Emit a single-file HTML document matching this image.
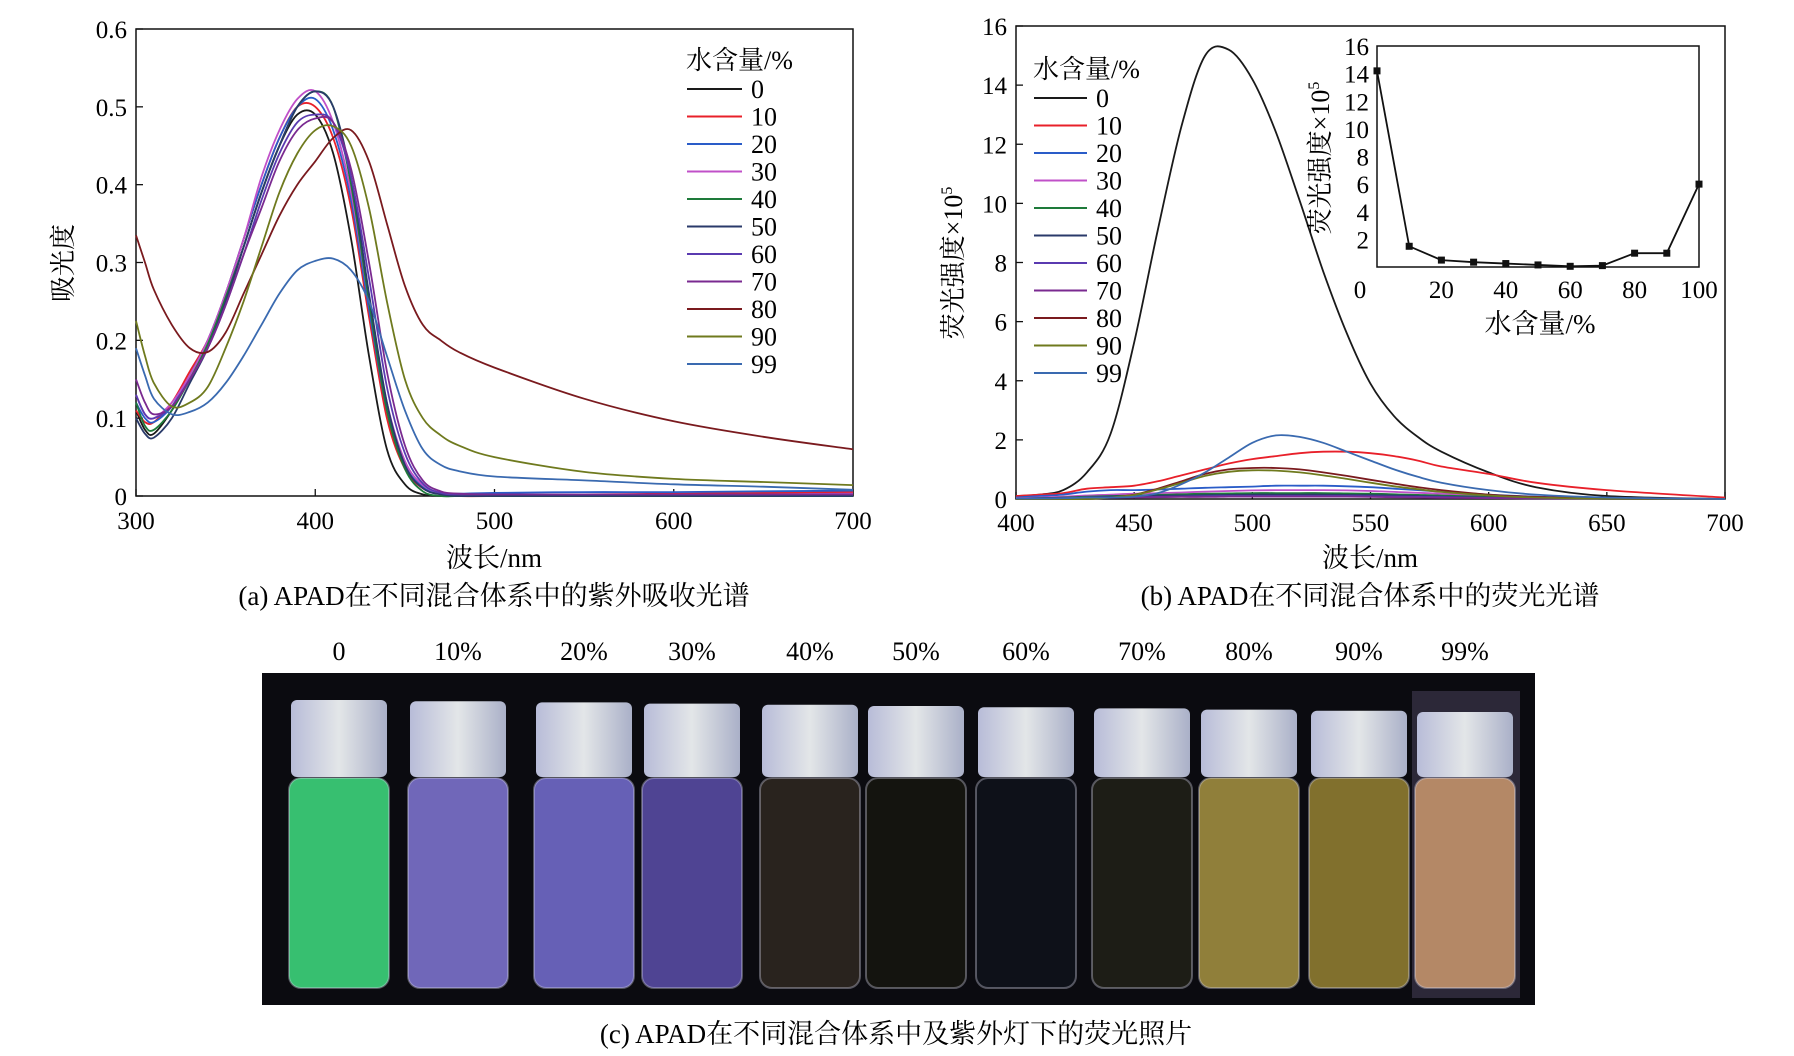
<!DOCTYPE html>
<html><head><meta charset="utf-8"><style>
html,body{margin:0;padding:0;background:#fff;}
svg{display:block;font-family:"Liberation Serif","Noto Serif CJK SC",serif;}
</style></head><body>
<svg id="fig" width="1794" height="1056" viewBox="0 0 1794 1056" xmlns="http://www.w3.org/2000/svg">
<defs>
<linearGradient id="capg" x1="0" x2="1"><stop offset="0" stop-color="#b8bcd8"/><stop offset="0.5" stop-color="#e3e6e8"/><stop offset="1" stop-color="#aab0c8"/></linearGradient>
</defs>
<g id="panelA"></g>
<g id="panelB"></g>
<g id="panelC"></g>
</svg>
<script>
// ---------- Panel (a) data ----------
const absWl = [300,305,310,320,330,340,350,360,370,380,390,400,410,420,430,440,450,460,470,480,500,550,600,650,700];
const absLabels = ["0","10","20","30","40","50","60","70","80","90","99"];
const absColors = ["#1a1a1a","#e8202a","#2a5cc8","#c050c8","#1e7a3a","#2a3a6a","#5a3ab0","#7a2a90","#7a1a1e","#6f7a1e","#3a6ab0"];
const abs0  = [0.11,0.085,0.08,0.11,0.15,0.19,0.25,0.32,0.39,0.45,0.49,0.49,0.44,0.33,0.18,0.06,0.015,0.002,0,0,0,0,0,0,0];
const abs10 = [0.11,0.095,0.095,0.12,0.16,0.2,0.26,0.33,0.40,0.46,0.50,0.50,0.46,0.37,0.23,0.10,0.035,0.01,0.003,0,0,0.002,0.003,0.004,0.005];
const abs20 = [0.12,0.1,0.095,0.115,0.155,0.2,0.26,0.33,0.40,0.46,0.50,0.51,0.47,0.38,0.24,0.11,0.04,0.012,0.004,0.003,0.004,0.005,0.005,0.006,0.007];
const abs30 = [0.13,0.105,0.1,0.12,0.155,0.2,0.26,0.33,0.41,0.47,0.51,0.52,0.48,0.39,0.25,0.12,0.045,0.014,0.004,0.002,0.002,0.002,0.002,0.002,0.003];
const abs40 = [0.12,0.09,0.085,0.11,0.15,0.195,0.255,0.32,0.39,0.45,0.50,0.52,0.50,0.40,0.25,0.11,0.035,0.006,0,0,0,0,0,0,0];
const abs50 = [0.10,0.08,0.075,0.10,0.145,0.19,0.25,0.32,0.39,0.45,0.50,0.52,0.50,0.41,0.26,0.12,0.04,0.01,0.002,0,0,0,0,0,0];
const abs60 = [0.13,0.105,0.1,0.115,0.15,0.19,0.245,0.31,0.38,0.44,0.48,0.49,0.48,0.41,0.28,0.14,0.055,0.016,0.004,0.002,0.002,0.002,0.002,0.002,0.002];
const abs70 = [0.15,0.12,0.105,0.115,0.15,0.19,0.245,0.31,0.37,0.43,0.47,0.485,0.48,0.42,0.30,0.16,0.065,0.02,0.006,0.003,0.002,0.002,0.002,0.002,0.002];
const abs80 = [0.335,0.30,0.265,0.22,0.19,0.185,0.21,0.26,0.31,0.36,0.40,0.43,0.46,0.47,0.43,0.35,0.27,0.22,0.2,0.185,0.165,0.125,0.096,0.076,0.06];
const abs90 = [0.225,0.18,0.145,0.115,0.12,0.14,0.19,0.25,0.32,0.39,0.44,0.47,0.475,0.45,0.37,0.25,0.15,0.10,0.078,0.065,0.05,0.031,0.022,0.018,0.014];
const abs99 = [0.19,0.155,0.125,0.105,0.108,0.12,0.145,0.18,0.22,0.26,0.29,0.302,0.305,0.29,0.25,0.18,0.11,0.06,0.04,0.032,0.025,0.02,0.015,0.012,0.008];
const absSeries = [abs0,abs10,abs20,abs30,abs40,abs50,abs60,abs70,abs80,abs90,abs99];
const absXTicks = [300,400,500,600,700];
const absYTicks = [0,0.1,0.2,0.3,0.4,0.5,0.6];
const absYTickLabels = ["0","0.1","0.2","0.3","0.4","0.5","0.6"];

// ---------- Panel (b) data ----------
const flWl = [400,410,420,430,440,450,460,470,480,490,500,510,520,530,540,550,560,570,580,600,620,650,700];
const fl0  = [0.1,0.15,0.3,0.9,2.2,5.3,9.1,12.6,15.0,15.2,14.2,12.4,10.1,7.7,5.6,3.9,2.8,2.1,1.6,0.9,0.4,0.1,0];
const fl10 = [0.1,0.15,0.2,0.35,0.4,0.45,0.6,0.8,1.0,1.2,1.35,1.45,1.55,1.6,1.6,1.55,1.45,1.3,1.1,0.85,0.55,0.3,0.05];
const fl20 = [0.05,0.1,0.15,0.25,0.3,0.3,0.32,0.35,0.38,0.4,0.42,0.45,0.45,0.45,0.43,0.4,0.35,0.3,0.25,0.15,0.08,0.03,0];
const fl30 = [0.03,0.05,0.08,0.12,0.15,0.18,0.2,0.22,0.25,0.27,0.29,0.3,0.3,0.3,0.29,0.27,0.24,0.21,0.18,0.11,0.06,0.02,0];
const fl40 = [0.02,0.03,0.05,0.08,0.1,0.12,0.14,0.16,0.18,0.19,0.2,0.2,0.2,0.2,0.19,0.18,0.16,0.14,0.12,0.07,0.04,0.01,0];
const fl50 = [0.02,0.03,0.04,0.06,0.08,0.1,0.11,0.12,0.13,0.14,0.15,0.15,0.15,0.15,0.14,0.13,0.12,0.1,0.08,0.05,0.03,0.01,0];
const fl60 = [0.01,0.02,0.03,0.04,0.05,0.06,0.07,0.08,0.09,0.1,0.1,0.1,0.1,0.1,0.1,0.09,0.08,0.07,0.06,0.04,0.02,0.01,0];
const fl70 = [0.01,0.02,0.02,0.03,0.04,0.05,0.06,0.07,0.07,0.08,0.08,0.08,0.08,0.08,0.08,0.07,0.06,0.05,0.04,0.03,0.02,0.01,0];
const fl80 = [0,0,0,0,0.05,0.15,0.35,0.6,0.85,1.0,1.05,1.05,1.0,0.9,0.78,0.65,0.52,0.4,0.3,0.15,0.07,0.02,0];
const fl90 = [0,0,0,0,0.05,0.14,0.32,0.55,0.78,0.92,0.97,0.96,0.9,0.8,0.68,0.55,0.43,0.33,0.24,0.12,0.05,0.01,0];
const fl99 = [0.02,0.02,0.03,0.05,0.05,0.08,0.2,0.5,0.9,1.4,1.9,2.15,2.1,1.9,1.6,1.3,1.0,0.75,0.55,0.3,0.15,0.05,0];
const flSeries = [fl0,fl10,fl20,fl30,fl40,fl50,fl60,fl70,fl80,fl90,fl99];
const flXTicks = [400,450,500,550,600,650,700];
const flYTicks = [0,2,4,6,8,10,12,14,16];

// ---------- Inset data ----------
const insetWater = [0,10,20,30,40,50,60,70,80,90,100];
const insetInt = [14.2,1.5,0.5,0.35,0.25,0.15,0.05,0.1,1.0,1.0,6.0];
const insetYTicks = [2,4,6,8,10,12,14,16];
const insetXTicks = [0,20,40,60,80,100];

// ---------- Photo data ----------
const vialLabels = ["0","10%","20%","30%","40%","50%","60%","70%","80%","90%","99%"];
const vialColors = ["#3ccf78","#7a70c8","#6f68c4","#564a9e","#2c2620","#16160f","#0f121a","#1f1f17","#9c8a3e","#8c7a30","#c0906a"];

const NS="http://www.w3.org/2000/svg";
function mk(parent,tag,attrs,text){const e=document.createElementNS(NS,tag);for(const k in attrs)e.setAttribute(k,attrs[k]);if(text!==undefined)e.textContent=text;parent.appendChild(e);return e;}
function smooth(pts){let d="M"+pts[0][0].toFixed(1)+","+pts[0][1].toFixed(1);
 for(let i=0;i<pts.length-1;i++){const p0=pts[Math.max(i-1,0)],p1=pts[i],p2=pts[i+1],p3=pts[Math.min(i+2,pts.length-1)];
 const c1=[p1[0]+(p2[0]-p0[0])/6,p1[1]+(p2[1]-p0[1])/6],c2=[p2[0]-(p3[0]-p1[0])/6,p2[1]-(p3[1]-p1[1])/6];
 d+=" C"+c1[0].toFixed(1)+","+c1[1].toFixed(1)+" "+c2[0].toFixed(1)+","+c2[1].toFixed(1)+" "+p2[0].toFixed(1)+","+p2[1].toFixed(1);}
 return d;}

// ===== Panel A =====
(function(){
const g=document.getElementById('panelA');
const L=136,R=853,T=29,B=496;
const x=v=>L+(v-300)/400*(R-L), y=v=>B-v/0.6*(B-T);
const box=mk(g,'rect',{x:L,y:T,width:R-L,height:B-T,fill:'none',stroke:'#111','stroke-width':1.5});

absXTicks.forEach(v=>{mk(g,'line',{x1:x(v),x2:x(v),y1:B,y2:B-7,stroke:'#111','stroke-width':1.3});
 const t=mk(g,'text',{x:x(v),y:B+33,'font-size':25,'text-anchor':'middle'},String(v));
 });
absYTicks.forEach((v,i)=>{mk(g,'line',{x1:L,x2:L+7,y1:y(v),y2:y(v),stroke:'#111','stroke-width':1.3});
 const t=mk(g,'text',{x:L-9,y:y(v)+9,'font-size':25,'text-anchor':'end'},absYTickLabels[i]);
 });
absSeries.forEach((s,k)=>{const p=mk(g,'path',{d:smooth(absWl.map((w,i)=>[x(w),y(s[i])])),fill:'none',stroke:absColors[k],'stroke-width':1.8});
 });
const yt=mk(g,'text',{x:0,y:0,'font-size':26,'text-anchor':'middle',transform:'translate(72,263) rotate(-90)'},'吸光度');

const xt=mk(g,'text',{x:494,y:567,'font-size':27,'text-anchor':'middle'},'波长/nm');

const cap=mk(g,'text',{x:494,y:605,'font-size':27,'text-anchor':'middle'},'(a) APAD在不同混合体系中的紫外吸收光谱');

const lt=mk(g,'text',{x:686,y:69,'font-size':26},'水含量/%');

absLabels.forEach((lab,k)=>{const yy=89+k*27.5;
 const le=mk(g,'g',{});
 mk(le,'line',{x1:687,x2:742,y1:yy,y2:yy,stroke:absColors[k],'stroke-width':2});
 mk(le,'text',{x:751,y:yy+9,'font-size':26},lab);});
})();

// ===== Panel B =====
(function(){
const g=document.getElementById('panelB');
const L=1016,R=1725,T=26,B=499;
const x=v=>L+(v-400)/300*(R-L), y=v=>B-v/16*(B-T);
const box=mk(g,'rect',{x:L,y:T,width:R-L,height:B-T,fill:'none',stroke:'#111','stroke-width':1.5});

flXTicks.forEach(v=>{mk(g,'line',{x1:x(v),x2:x(v),y1:B,y2:B-7,stroke:'#111','stroke-width':1.3});
 const t=mk(g,'text',{x:x(v),y:B+32,'font-size':25,'text-anchor':'middle'},String(v));
 });
flYTicks.forEach(v=>{mk(g,'line',{x1:L,x2:L+7,y1:y(v),y2:y(v),stroke:'#111','stroke-width':1.3});
 const t=mk(g,'text',{x:L-9,y:y(v)+9,'font-size':25,'text-anchor':'end'},String(v));
 });
flSeries.forEach((s,k)=>{const p=mk(g,'path',{d:smooth(flWl.map((w,i)=>[x(w),y(s[i])])),fill:'none',stroke:absColors[k],'stroke-width':1.8});
 });
const yt=mk(g,'text',{x:0,y:0,'font-size':26,'text-anchor':'middle',transform:'translate(962,263) rotate(-90)'});

yt.textContent='荧光强度×10';
mk(yt,'tspan',{'font-size':16,dy:-10},'5');
const xt=mk(g,'text',{x:1370,y:567,'font-size':27,'text-anchor':'middle'},'波长/nm');

const cap=mk(g,'text',{x:1370,y:605,'font-size':27,'text-anchor':'middle'},'(b) APAD在不同混合体系中的荧光光谱');

const lt=mk(g,'text',{x:1033,y:78,'font-size':26},'水含量/%');

absLabels.forEach((lab,k)=>{const yy=98+k*27.5;
 const le=mk(g,'g',{});
 mk(le,'line',{x1:1034,x2:1087,y1:yy,y2:yy,stroke:absColors[k],'stroke-width':2});
 mk(le,'text',{x:1096,y:yy+9,'font-size':26},lab);});
// inset
const IL=1377,IR=1699,IT=46,IB=267;
const ix=v=>IL+v/100*(IR-IL), iy=v=>IB-v/16*(IB-IT);
const ib=mk(g,'rect',{x:IL,y:IT,width:IR-IL,height:IB-IT,fill:'#fff',stroke:'#111','stroke-width':1.5});

insetYTicks.forEach(v=>{const t=mk(g,'text',{x:IL-8,y:iy(v)+9,'font-size':25,'text-anchor':'end'},String(v));
 });
insetXTicks.forEach(v=>{const t=mk(g,'text',{x:v===0?ix(v)-17:ix(v),y:298,'font-size':25,'text-anchor':'middle'},String(v));
 });
const il=mk(g,'polyline',{points:insetWater.map((w,i)=>ix(w)+','+iy(insetInt[i])).join(' '),fill:'none',stroke:'#111','stroke-width':1.8});

insetWater.forEach((w,i)=>{const m=mk(g,'rect',{x:ix(w)-3.5,y:iy(insetInt[i])-3.5,width:7,height:7,fill:'#111'});
 });
const ixt=mk(g,'text',{x:1540,y:333,'font-size':27,'text-anchor':'middle'},'水含量/%');

const iyt=mk(g,'text',{x:0,y:0,'font-size':26,'text-anchor':'middle',transform:'translate(1329,158) rotate(-90)'});

iyt.textContent='荧光强度×10';
mk(iyt,'tspan',{'font-size':16,dy:-10},'5');
})();

// ===== Panel C =====
(function(){
const g=document.getElementById('panelC');
const bg=mk(g,'rect',{x:262,y:673,width:1273,height:332,fill:'#0b0b10'});

mk(g,'rect',{x:1412,y:691,width:108,height:307,fill:'#2c2838'});
const cx=[339,458,584,692,810,916,1026,1142,1249,1359,1465];
vialLabels.forEach((lab,i)=>{
 const t=mk(g,'text',{x:cx[i],y:660,'font-size':26,'text-anchor':'middle'},lab);
 
 const v=mk(g,'g',{});
 const capTop=700+i*1.2;
 mk(v,'rect',{x:cx[i]-50,y:778,width:100,height:210,rx:12,fill:vialColors[i],opacity:0.92});
 mk(v,'rect',{x:cx[i]-50,y:778,width:100,height:210,rx:12,fill:'none',stroke:'rgba(220,220,240,0.35)','stroke-width':2});
 mk(v,'rect',{x:cx[i]-48,y:capTop,width:96,height:777-capTop,rx:6,fill:'url(#capg)'});
});
const cap=mk(g,'text',{x:896,y:1043,'font-size':27,'text-anchor':'middle'},'(c) APAD在不同混合体系中及紫外灯下的荧光照片');

})();
</script>
</body></html>
